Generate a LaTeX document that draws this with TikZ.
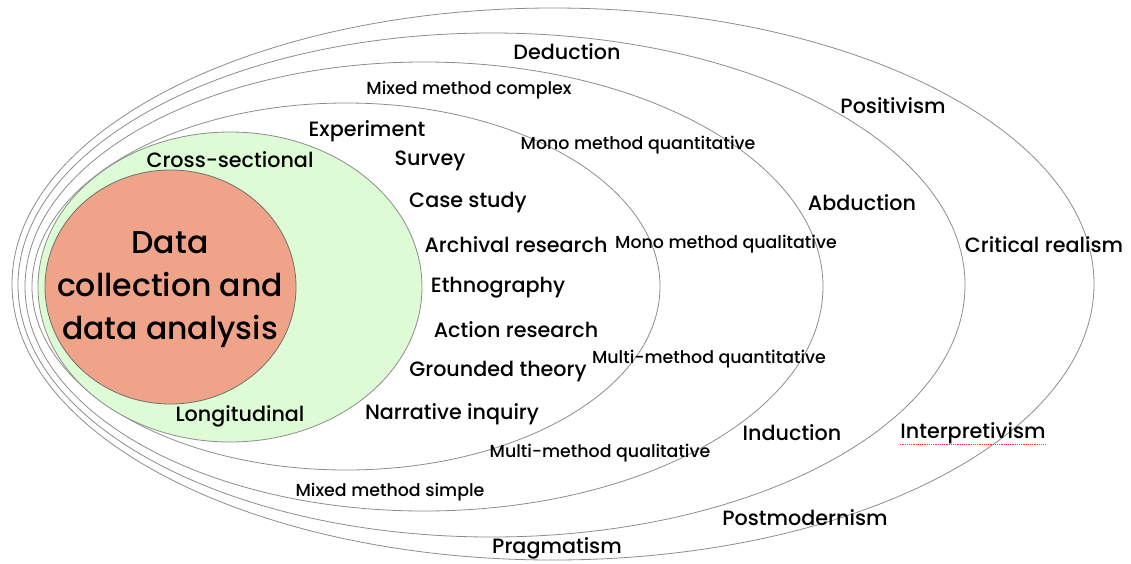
\documentclass[tikz,border=0pt]{standalone}
\usepackage{fontspec}
\setmainfont{Poppins}[UprightFont={* Medium}]
\definecolor{ringgray}{RGB}{140,140,140}
\definecolor{timegreen}{RGB}{221,251,212}
\definecolor{coresalmon}{RGB}{239,164,138}
\tikzset{
  ring/.style={draw=ringgray,line width=0.8pt},
  biglbl/.style={font=\fontsize{20.7}{23}\selectfont,inner sep=0pt},
  smalllbl/.style={font=\fontsize{17.4}{20}\selectfont,inner sep=0pt}
}
\begin{document}
\begin{tikzpicture}[x=1pt,y=-1pt]
    \useasboundingbox (0,0) rectangle (1131,563);

    % onion layers, outside in
    \draw[ring] (553,284) ellipse (541pt and 276pt);
    \draw[ring] (491.5,285) ellipse (473.5pt and 252pt);
    \draw[ring] (424,286.5) ellipse (399pt and 224.5pt);
    \draw[ring] (346,286.5) ellipse (314pt and 183.5pt);
    \draw[ring,fill=timegreen] (230,287) ellipse (192pt and 155pt);
    \draw[ring,draw=ringgray!80!black,fill=coresalmon] (170.5,287) ellipse (125.5pt and 117pt);

    % philosophies
    \node[biglbl] (positivism) at (893,106) {Positivism};
    \node[biglbl] (critreal) at (1044,245) {Critical realism};
    \node[biglbl] (interpret) at (973,433) {Interpretivism};
    \node[biglbl] (postmod) at (805,518) {Postmodernism};
    \node[biglbl] (pragmatism) at (557,548) {Pragmatism};
    \draw[red!80,densely dotted,line width=1.2pt] ([yshift=-1pt]interpret.south west) -- ([yshift=-1pt]interpret.south east);

    % approaches
    \node[biglbl] (deduction) at (567,52) {Deduction};
    \node[biglbl] (abduction) at (862,203) {Abduction};
    \node[biglbl] (induction) at (792,433) {Induction};

    % methodological choice
    \node[smalllbl] (mixcomplex) at (469,90) {Mixed method complex};
    \node[smalllbl] (monoquant) at (638,145) {Mono method quantitative};
    \node[smalllbl] (monoqual) at (726,244) {Mono method qualitative};
    \node[smalllbl] (multiquant) at (709,359) {Multi-method quantitative};
    \node[smalllbl] (multiqual) at (600,453) {Multi-method qualitative};
    \node[smalllbl] (mixsimple) at (390,492) {Mixed method simple};

    % strategies
    \node[biglbl] (experiment) at (367,131) {Experiment};
    \node[biglbl] (survey) at (430,161) {Survey};
    \node[biglbl] (casestudy) at (468,203) {Case study};
    \node[biglbl] (archival) at (516,245) {Archival research};
    \node[biglbl] (ethno) at (498,288) {Ethnography};
    \node[biglbl] (action) at (516,330) {Action research};
    \node[biglbl] (grounded) at (498,372) {Grounded theory};
    \node[biglbl] (narrative) at (452,414) {Narrative inquiry};

    % time horizons
    \node[biglbl] (crosssec) at (230,160) {Cross-sectional};
    \node[biglbl] (longit) at (240,416) {Longitudinal};

    % core
    \node[font=\fontsize{31.5}{43}\selectfont,align=center,inner sep=0pt] (core) at (170,290)
      {Data\\collection and\\data analysis};
\end{tikzpicture}
\end{document}
